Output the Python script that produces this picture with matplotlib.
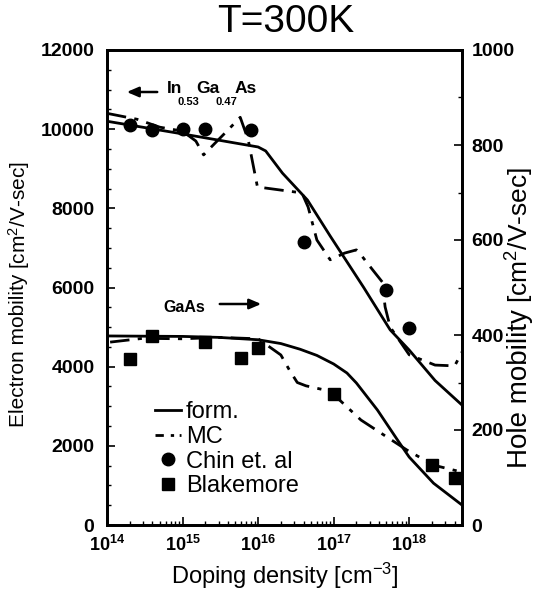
import math
import matplotlib
matplotlib.use("Agg")
import matplotlib.pyplot as plt
from matplotlib.lines import Line2D
from matplotlib.ticker import MultipleLocator, FixedLocator, FuncFormatter, LogLocator, NullFormatter

plt.rcParams['font.family'] = ['Liberation Sans', 'DejaVu Sans']
plt.rcParams['mathtext.fontset'] = 'custom'
plt.rcParams['mathtext.rm'] = 'Liberation Sans'
plt.rcParams['mathtext.it'] = 'Liberation Sans:italic'
plt.rcParams['mathtext.bf'] = 'Liberation Sans:bold'

# ---------------- data ----------------
# In0.53Ga0.47As electron mobility (left axis)
ingaas_form_n = [1e14, 1e15, 1e16, 1.26e16, 2.1e16, 4.5e16, 9e16, 2.5e17, 5.6e17, 1e18, 2.2e18, 5e18]
ingaas_form_mu = [10200, 9880, 9550, 9450, 8890, 8210, 7300, 6000, 4930, 4420, 3650, 3030]

ingaas_mc_n = [1e14, 2.5e14, 5e14, 1e15, 1.5e15, 1.9e15, 2.4e15, 4e15, 5.8e15, 7.4e15, 9.8e15,
               3.8e16, 4.6e16, 6e16, 9e16, 1.4e17, 2e17, 2.2e17, 3.3e17, 4.4e17, 4.8e17, 5.6e17,
               1e18, 2.2e18, 4e18, 5e18]
ingaas_mc_mu = [10400, 10250, 10050, 9950, 9700, 9350, 9550, 9980, 10300, 9730, 8540,
                8390, 8030, 7200, 6700, 6870, 6950, 6870, 6440, 6140, 5510, 5000,
                4300, 4040, 4020, 4370]

chin_n = [2e14, 4e14, 1e15, 2e15, 8e15, 4e16, 5e17, 1e18]
chin_mu = [10100, 9980, 10000, 10000, 9980, 7150, 5940, 4980]

# GaAs hole mobility (right axis)
gaas_form_n = [1e14, 1e15, 3e15, 1e16, 2e16, 3.6e16, 6e16, 1e17, 1.5e17, 2e17, 3.8e17, 7e17,
               1e18, 2.1e18, 5e18]
gaas_form_mu = [398, 397, 395, 390, 382, 370, 357, 339, 320, 299, 242, 179, 143, 88, 42]

gaas_mc_n = [1.1e14, 3e14, 1e15, 3e15, 1e16, 2e16, 2.6e16, 3.3e16, 4.3e16, 1e17, 1.2e17,
             2.3e17, 5.1e17, 9.3e17, 2.1e18, 4.8e18]
gaas_mc_mu = [385, 393, 392, 395, 392, 358, 326, 300, 293, 280, 263, 221, 185, 158, 126, 112]

blake_n = [2e14, 4e14, 2e15, 6e15, 1e16, 1e17, 2e18, 4e18]
blake_mu = [350, 398, 386, 352, 372, 276, 126, 98]

left_ticks = [0, 2000, 4000, 6000, 8000, 10000, 12000]
right_ticks = [0, 200, 400, 600, 800, 1000]
x_ticks = [1e14, 1e15, 1e16, 1e17, 1e18]

# ---------------- figure ----------------
W, H = 540, 598
fig = plt.figure(figsize=(W / 100, H / 100), dpi=100)
ax = fig.add_axes([107/W, 73/H, 355/W, 475/H])
ax2 = ax.twinx()

mc_dash = (0, (7, 3, 1.5, 3))
lw = 2.0

ax.plot(ingaas_form_n, ingaas_form_mu, color='black', lw=lw, solid_joinstyle='round')
ax.plot(ingaas_mc_n, ingaas_mc_mu, color='black', lw=lw, linestyle=mc_dash)
ax.plot(chin_n, chin_mu, 'o', color='black', ms=9, linestyle='none')

ax2.plot(gaas_form_n, gaas_form_mu, color='black', lw=lw)
ax2.plot(gaas_mc_n, gaas_mc_mu, color='black', lw=lw, linestyle=mc_dash)
ax2.plot(blake_n, blake_mu, 's', color='black', ms=8, linestyle='none')

ax.set_xscale('log')
ax.set_xlim(1e14, 5e18)
ax.set_ylim(0, 12000)
ax2.set_ylim(0, 1000)

ax.xaxis.set_major_locator(FixedLocator(x_ticks))
ax.xaxis.set_minor_locator(LogLocator(base=10, subs=range(2, 10), numticks=20))
ax.xaxis.set_minor_formatter(NullFormatter())
ax.xaxis.set_major_formatter(FuncFormatter(lambda v, p: r'$\mathbf{10^{%d}}$' % round(math.log10(v))))

ax.yaxis.set_major_locator(FixedLocator(left_ticks))
ax.yaxis.set_minor_locator(MultipleLocator(500))
ax2.yaxis.set_major_locator(FixedLocator(right_ticks))
ax2.yaxis.set_minor_locator(MultipleLocator(100))

for a in (ax, ax2):
    for s in a.spines.values():
        s.set_linewidth(2)
ax.tick_params(axis='x', which='major', direction='in', length=6, width=1.2, labelsize=13, pad=7)
ax.tick_params(axis='y', which='major', direction='in', length=6, width=1.2, labelsize=14, pad=9)
ax.tick_params(axis='both', which='minor', direction='in', length=3, width=1)
ax.tick_params(axis='y', right=False)
ax2.tick_params(axis='y', which='major', direction='in', length=6, width=1.2, labelsize=14, pad=7)
ax2.tick_params(axis='y', which='minor', direction='in', length=3, width=1)
for lab in ax.get_yticklabels() + ax2.get_yticklabels():
    lab.set_fontweight('bold')

# titles and labels
fig.text(0.53, 0.963, 'T=300K', ha='center', va='center', fontsize=28)
ax.set_xlabel(r'Doping density [cm$^{-3}$]', fontsize=17, labelpad=4)


def stacked_vlabel(x_px, y_start_px, parts, gap_px=5):
    """Place rotated text pieces one after another going upward."""
    y = y_start_px
    for txt, fs in parts:
        t = fig.text(x_px / W, 1 - y / H, txt, rotation=90, rotation_mode='anchor',
                     ha='left', va='center', fontsize=fs)
        fig.canvas.draw()
        bb = t.get_window_extent()
        y = H - bb.y1 + 0 - gap_px


stacked_vlabel(19, 427, [('Electron mobility', 15), (r'[cm$^2$/V-sec]', 15)], gap_px=5)
stacked_vlabel(520, 468, [('Hole mobility', 20), (r'[cm$^2$/V-sec]', 19)], gap_px=6)

# annotations
def axfx(px):
    return (px - 107) / 355

def axfy(py):
    return (525 - py) / 475

for txt, px, py, fs in [('In', 167, 93, 12.5), ('0.53', 177, 105, 8),
                        ('Ga', 196, 93, 12.5), ('0.47', 215, 105, 8),
                        ('As', 235, 93, 12.5)]:
    ax.text(axfx(px), axfy(py), txt, transform=ax.transAxes, fontsize=fs,
            fontweight='bold', ha='left', va='baseline')
ax.annotate('', xy=(axfx(124), axfy(92)), xytext=(axfx(160), axfy(92)), xycoords='axes fraction',
            arrowprops=dict(arrowstyle='-|>,head_length=0.7,head_width=0.3', color='black', lw=1.8))
ax.text(axfx(163), axfy(312), 'GaAs', transform=ax.transAxes, fontsize=11.5, fontweight='bold',
        ha='left', va='baseline')
ax.annotate('', xy=(axfx(264), axfy(304)), xytext=(axfx(217), axfy(304)), xycoords='axes fraction',
            arrowprops=dict(arrowstyle='-|>,head_length=0.7,head_width=0.3', color='black', lw=1.8))

# legend
handles = [Line2D([], [], color='black', lw=lw),
           Line2D([], [], color='black', lw=lw, linestyle=(0, (3, 2.5, 1.2, 2))),
           Line2D([], [], marker='o', color='black', ms=9, linestyle='none'),
           Line2D([], [], marker='s', color='black', ms=8, linestyle='none')]
labels = ['form.', 'MC', 'Chin et. al', 'Blakemore']
leg = ax.legend(handles, labels, loc='upper left', bbox_to_anchor=(axfx(155), axfy(401)),
                frameon=False, fontsize=17, labelspacing=0.12, handlelength=1.1,
                handletextpad=0.2, borderaxespad=0, borderpad=0)

fig.savefig('out.png', dpi=100)
